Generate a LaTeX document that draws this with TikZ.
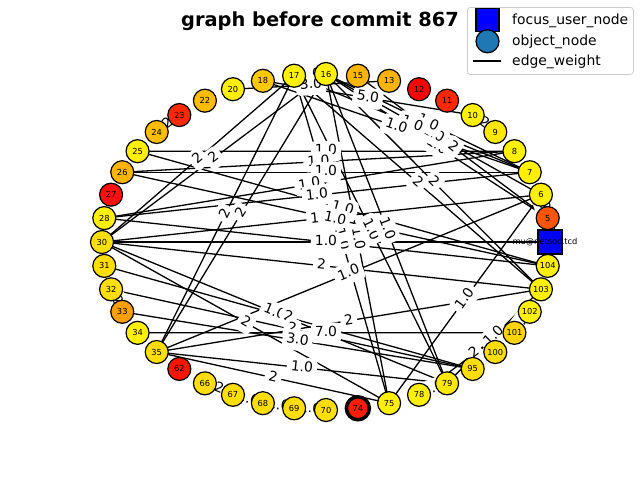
\documentclass[tikz,border=0pt]{standalone}
\usepackage{fontspec}
\setmainfont{DejaVu Sans}
\pgfdeclarelayer{edges}
\pgfdeclarelayer{elabels}
\pgfsetlayers{edges,elabels,main}
\definecolor{yA}{RGB}{255,240,0}
\definecolor{yB}{RGB}{255,222,0}
\definecolor{yC}{RGB}{255,232,0}
\definecolor{oA}{RGB}{255,180,0}
\definecolor{oB}{RGB}{255,188,0}
\definecolor{oC}{RGB}{255,200,0}
\definecolor{oD}{RGB}{255,160,0}
\definecolor{oE}{RGB}{255,212,0}
\definecolor{rA}{RGB}{255,0,0}
\definecolor{rB}{RGB}{255,40,0}
\definecolor{rC}{RGB}{255,15,15}
\definecolor{rD}{RGB}{255,20,0}
\definecolor{rE}{RGB}{255,30,0}
\definecolor{cF}{RGB}{255,85,0}
\definecolor{mplblue}{RGB}{31,119,180}
\definecolor{legframe}{RGB}{204,204,204}
\def\edgelist{17/16/1.0, 20/13/3.0, 18/10/5.0,
16/5/1.0, 16/6/1.0, 16/7/1.0, 17/7/1.0, 18/7/1.0, 15/5/2,
10/9/2, 24/23/2, 6/5/2, mu/5/2, mu/104/2, 33/32/2, 66/67/2, 67/68/1.0, 68/69/1.0, 69/70/1.0, 78/79/1.0, 101/102/1.0,
25/8/1.0, 26/8/1.0, 26/7/1.0, 28/8/1.0, 28/7/1.0,
28/104/1.0, 30/6/1.0, 25/104/1.0, 26/104/1.0,
17/75/1.0, 16/75/1.0, 30/mu/1.0,
17/79/1.0, 16/79/1.0,
30/103/2, 35/6/1.0,
30/17/2, 30/16/2, 35/17/2, 35/16/2,
17/103/2, 16/103/2, 75/6/1.0,
79/103/1.0, 78/102/2,
30/79/1.0, 31/95/2, 32/95/2, 30/75/2, 35/103/2, 33/95/3.0, 34/101/7.0, 35/79/1.0, 35/75/2}
\begin{document}
\begin{tikzpicture}[x=1pt,y=-1pt,
  vnode/.style={circle,draw=black,minimum size=23pt,inner sep=0pt,font=\fontsize{8.3}{10}\selectfont},
  edgeline/.style={line width=1.3pt,black},
  elab/.style={midway,sloped,fill=white,rounded corners=4pt,inner xsep=4pt,inner ysep=3.5pt,text height=10.5pt,text depth=3pt,font=\fontsize{13.9}{16}\selectfont},
  legtext/.style={anchor=base west,inner sep=0pt,font=\fontsize{13.9}{16}\selectfont}
]
\useasboundingbox (0,0) rectangle (640,480);
% title
\node[anchor=base,inner sep=0pt,font=\bfseries\fontsize{19.4}{22}\selectfont] (title) at (320,26) {graph before commit 867};
% focus node
\node[rectangle,draw=black,fill=blue,line width=1.2pt,minimum size=24pt,inner sep=0pt] (nmu) at (550,242) {};
\node[inner sep=0pt,font=\fontsize{8.3}{10}\selectfont] (mulabel) at (545,242) {mu@netsoc.tcd};
% object nodes on the circle
\foreach \n/\c/\w [count=\k] in {5/cF/1.2,6/yA/1.2,7/yA/1.2,8/yA/1.2,9/yC/1.2,10/yA/1.2,11/rB/1.2,12/rA/1.2,13/oA/1.2,15/oA/1.2,16/yA/1.2,17/yA/1.2,18/oC/1.2,20/yA/1.2,22/oB/1.2,23/rB/1.2,24/oB/1.2,25/yA/1.2,26/oA/1.2,27/rC/1.2,28/yA/1.2,30/yB/1.2,31/yB/1.2,32/yB/1.2,33/oD/1.2,34/yA/1.2,35/yB/1.2,62/rD/1.2,66/yB/1.2,67/yB/1.2,68/yB/1.2,69/yB/1.2,70/yB/1.2,74/rE/3.5,75/yA/1.2,78/yA/1.2,79/yC/1.2,95/yB/1.2,100/yB/1.2,101/oE/1.2,102/yA/1.2,103/yA/1.2,104/yA/1.2}{
  \node[vnode,fill=\c,line width=\w pt] (n\n) at ({326+224*cos(\k*360/44)},{242-168*sin(\k*360/44)}) {\n};
}
% edges
\begin{pgfonlayer}{edges}
\foreach \a/\b/\l in \edgelist {\draw[edgeline] (n\a.center) -- (n\b.center);}
\end{pgfonlayer}
\begin{pgfonlayer}{elabels}
\foreach \a/\b/\l in \edgelist {\path (n\a.center) -- (n\b.center) node[elab] {\l};}
\end{pgfonlayer}
% legend
\node[draw=legframe,fill=white,line width=0.8pt,rounded corners=3pt,minimum width=166pt,minimum height=67pt,anchor=north west,inner sep=0pt] (legbox) at (467,7) {};
\node[rectangle,draw=black,fill=blue,line width=1.2pt,minimum size=23pt,inner sep=0pt] (legsq) at (487.5,20.3) {};
\node[circle,draw=black,fill=mplblue,line width=1.2pt,minimum size=23pt,inner sep=0pt] (legci) at (487.5,41.3) {};
\coordinate (legl1) at (473.3,61);
\coordinate (legl2) at (500.7,61);
\draw[edgeline] (legl1) -- (legl2);
\node[legtext] (lt1) at (512,24) {focus\_user\_node};
\node[legtext] (lt2) at (512,45) {object\_node};
\node[legtext] (lt3) at (512,65.5) {edge\_weight};
\end{tikzpicture}
\end{document}
